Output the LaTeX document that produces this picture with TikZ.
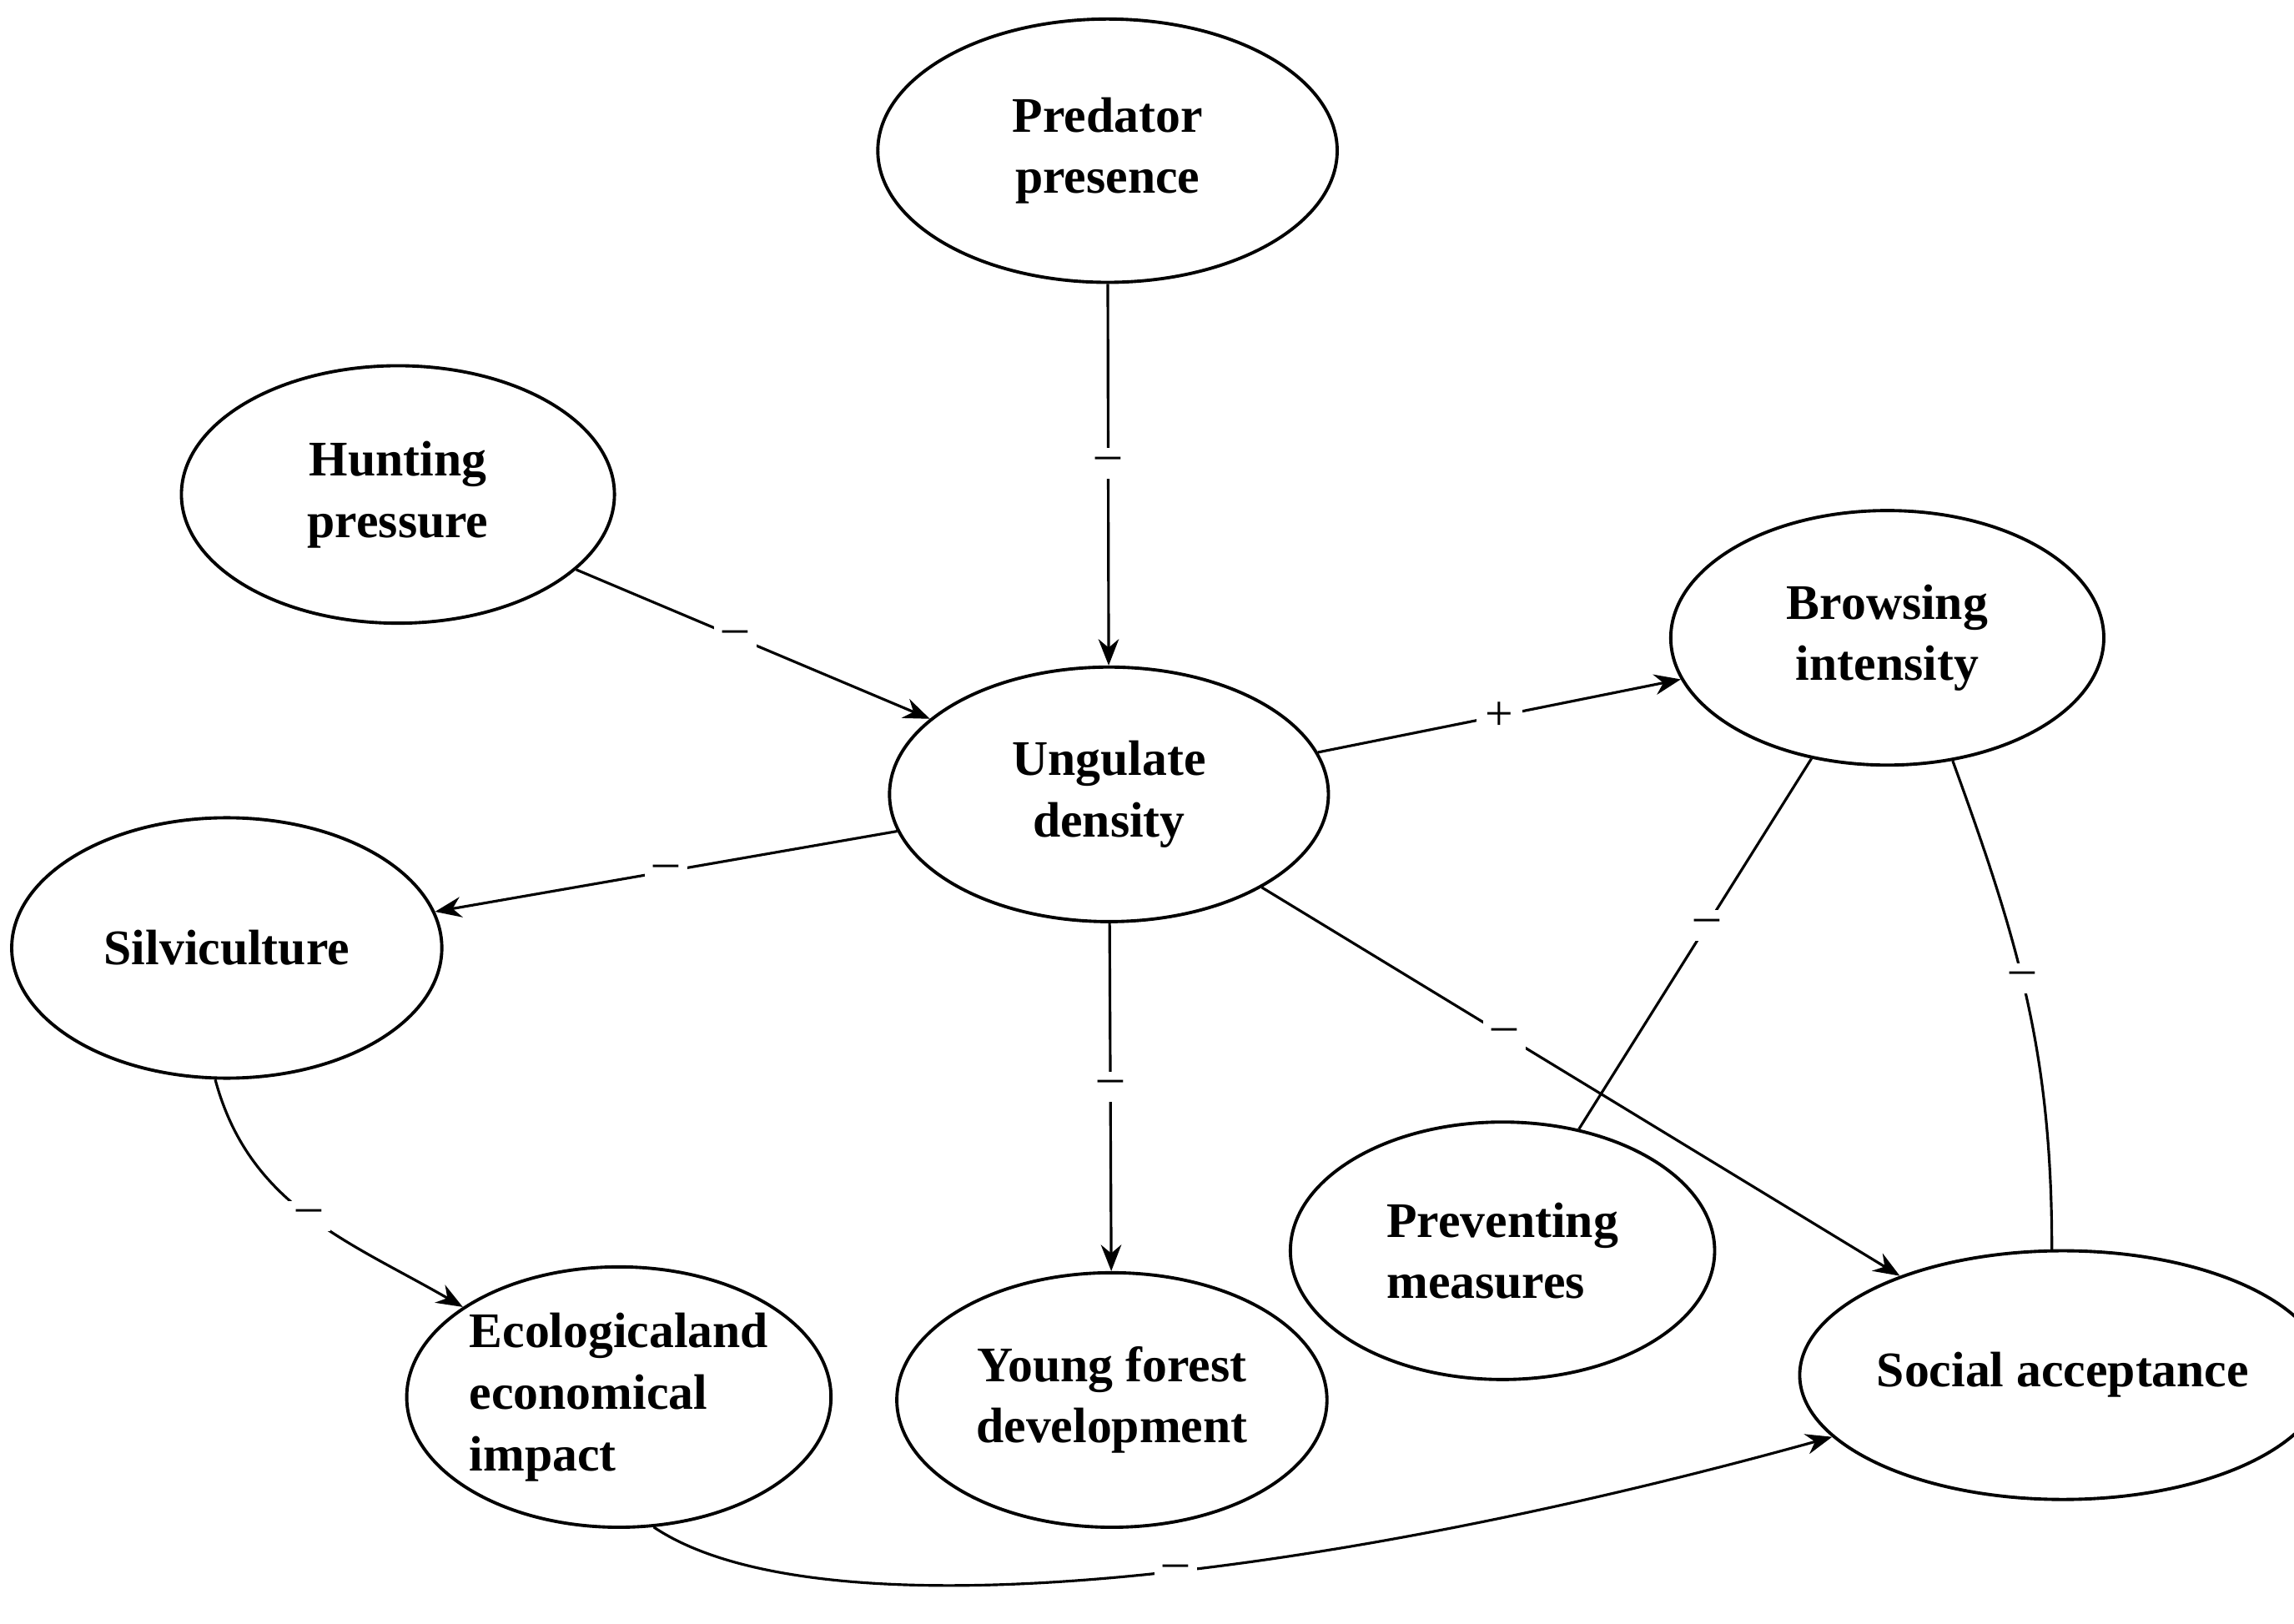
\documentclass[tikz,border=0pt]{standalone}
\usepackage{fontspec}
\setmainfont{Liberation Serif}
\usetikzlibrary{shapes.geometric,arrows.meta}
\begin{document}
\begin{tikzpicture}[x=0.01754cm,y=-0.01754cm,
  el/.style={draw,ellipse,line width=1.1pt,inner sep=0pt,font=\fontsize{17}{21}\selectfont\bfseries,align=center},
  sz/.style 2 args={minimum width=#1*0.01754cm,minimum height=#2*0.01754cm},
  ar/.style={line width=0.9pt,-{Stealth[length=9pt,width=7pt]}},
  ln/.style={line width=0.9pt},
  lb/.style={fill=white,inner sep=3pt,font=\fontsize{17}{18}\selectfont}]
\useasboundingbox (0,0) rectangle (1568,1110);
\node[el,sz={314}{180}] (pred) at (757,103) {Predator\\presence};
\node[el,sz={296}{176}] (hunt) at (272,338) {Hunting\\pressure};
\node[el,sz={300}{174}] (ung) at (758,543) {Ungulate\\density};
\node[el,sz={296}{174}] (brow) at (1290,436) {Browsing\\intensity};
\node[el,sz={294}{178}] (silv) at (155,648) {Silviculture};
\node[el,sz={290}{178},align=left] (eco) at (423,955) {Ecologicaland\\economical\\impact};
\node[el,sz={294}{174}] (young) at (760,957) {Young forest\\development};
\node[el,sz={290}{176},align=left] (prev) at (1027,855) {Preventing\\measures};
\node[el,sz={300}{170}] (soc) at (1410,940) {Social acceptance};
\draw[ar] (pred) -- node[lb,pos=0.47]{–} (ung);
\draw[ar] (hunt) -- node[lb,pos=0.45]{–} (ung);
\draw[ar] (ung) -- node[lb,pos=0.5]{+} (brow);
\draw[ar] (ung) -- node[lb,pos=0.5]{–} (silv);
\draw[ar] (ung) -- node[lb,pos=0.47]{–} (young);
\draw[ar] (ung) -- node[lb,pos=0.38]{–} (soc);
\draw[ln] (brow) -- node[lb,pos=0.45]{–} (prev);
\draw[ln] (brow.-62) to[out=-70,in=90] node[lb,pos=0.45]{–} (soc.95);
\draw[ar] (silv.-95) to[out=-75,in=150] node[lb,pos=0.5]{–} (eco.150);
\draw[ar] (eco.-75) .. controls (560,1120) and (900,1080) .. node[lb,pos=0.55]{–} (soc.-165);
\end{tikzpicture}
\end{document}
